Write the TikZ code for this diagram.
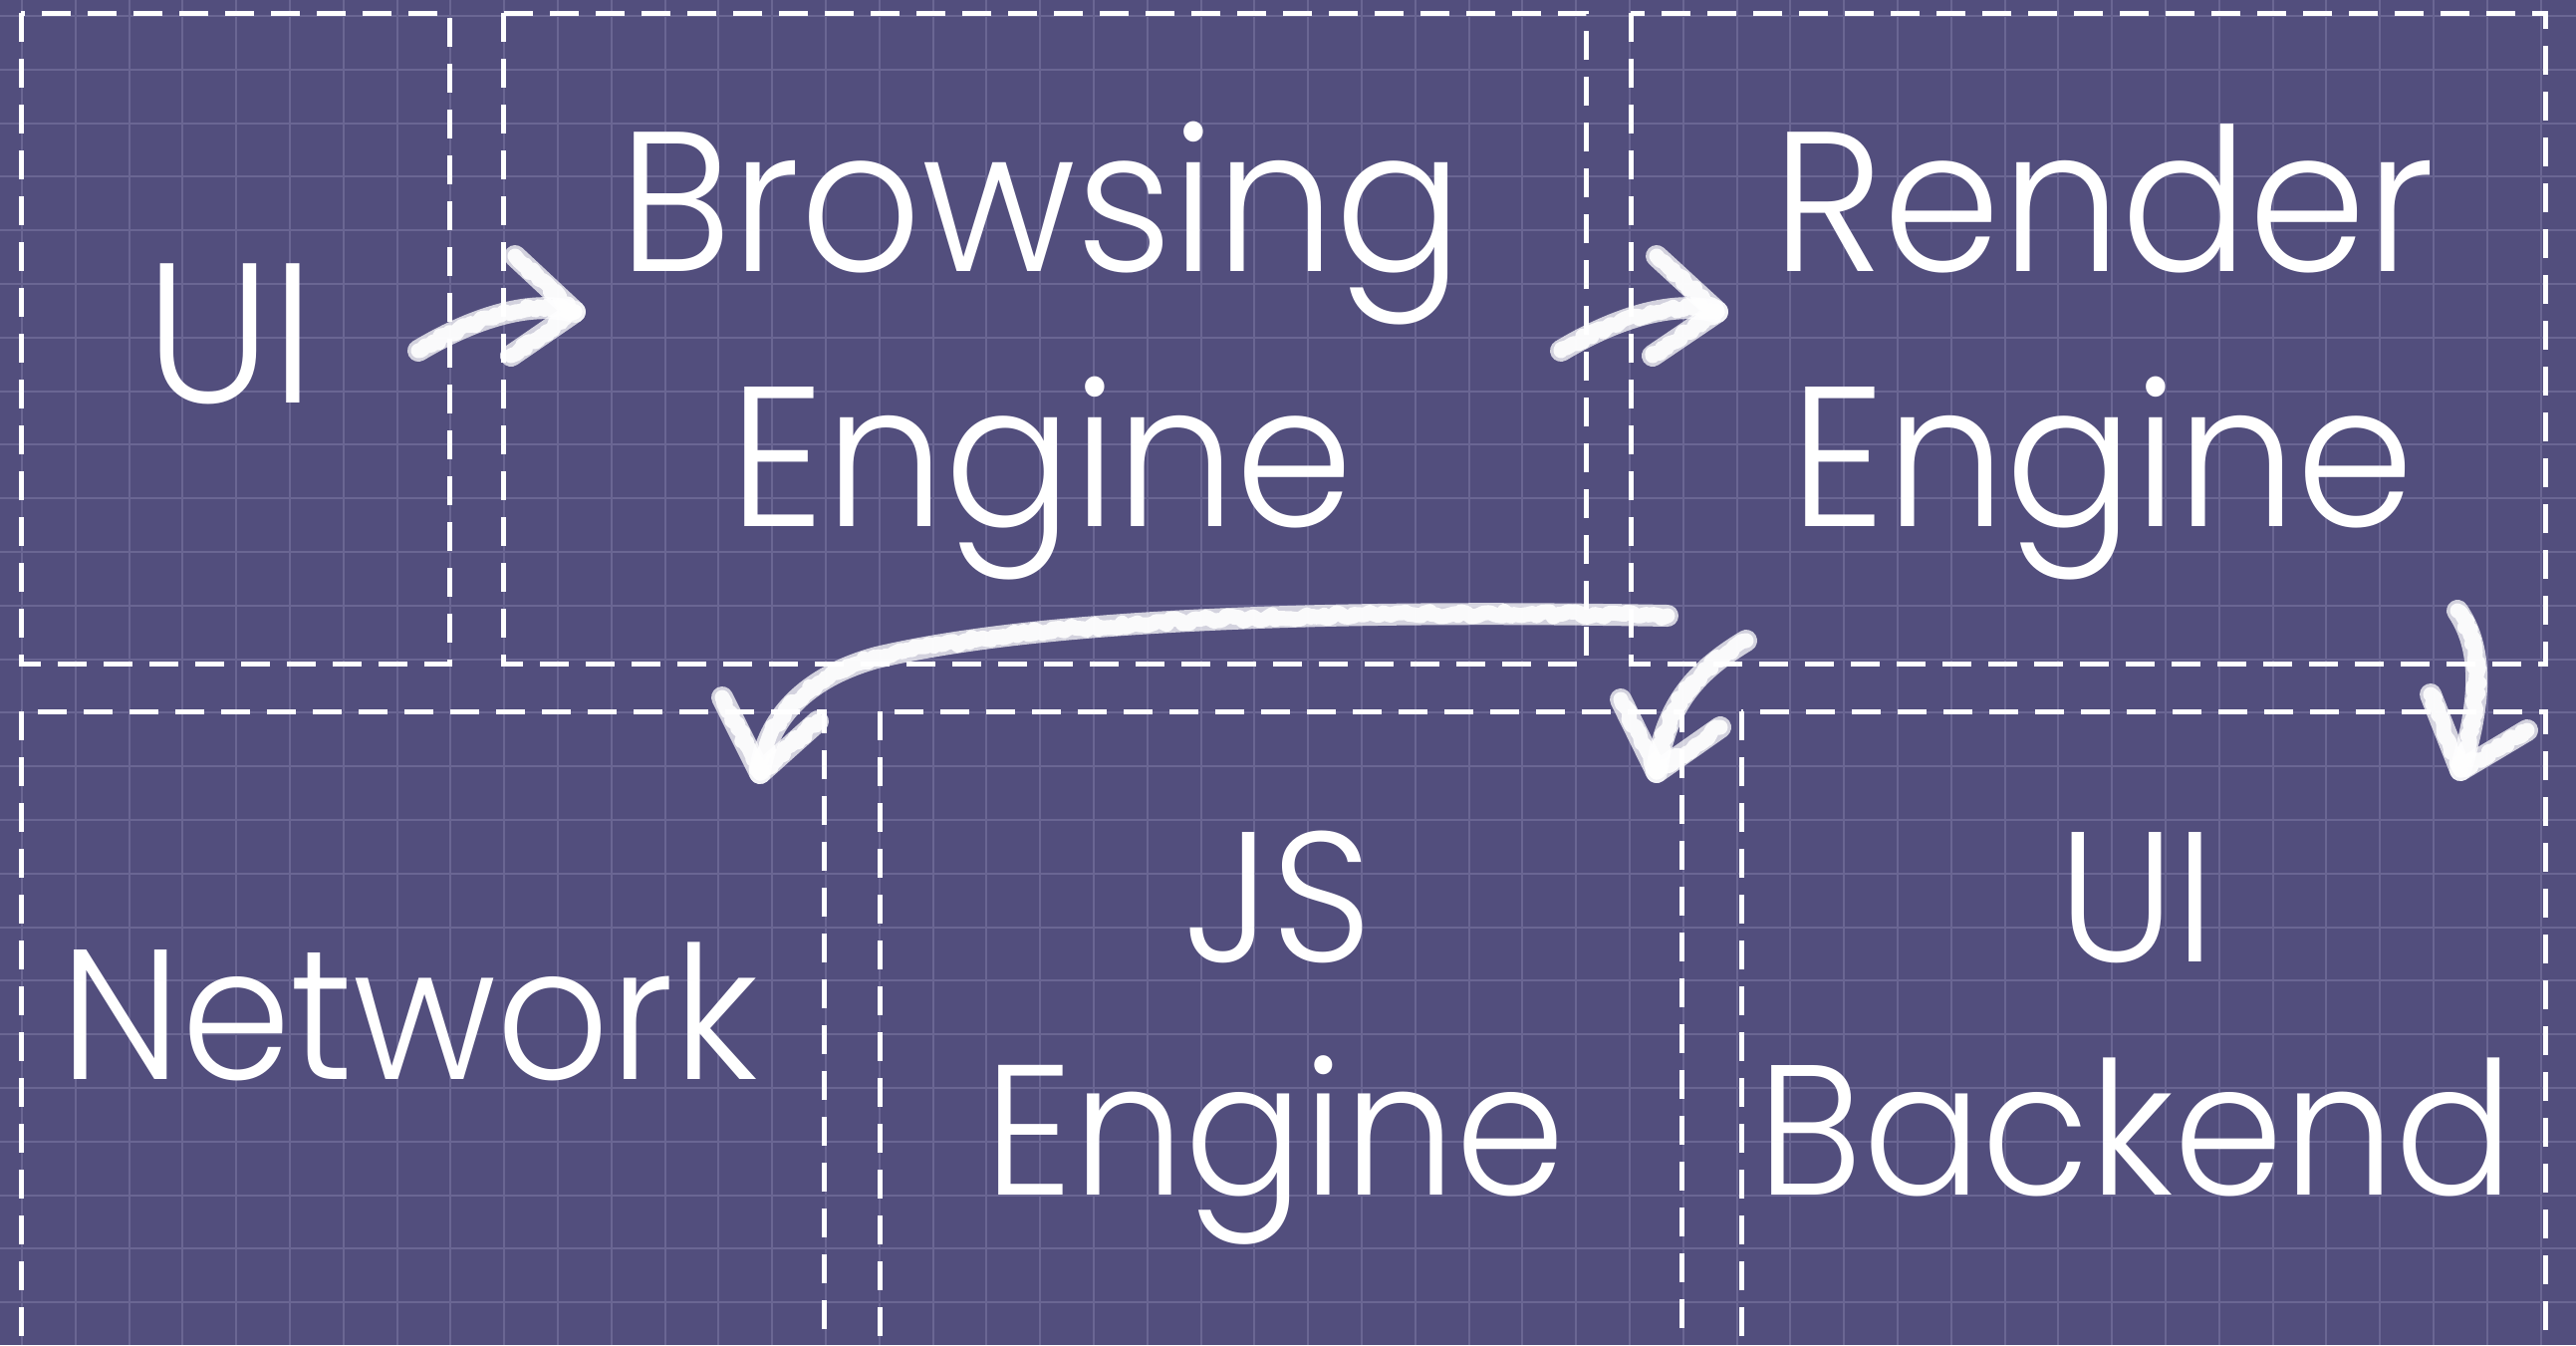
\documentclass[tikz,border=0pt]{standalone}
\usepackage{fontspec}
\setmainfont{Poppins Light}[FakeStretch=0.95]
\usetikzlibrary{decorations.pathmorphing}
\definecolor{board}{HTML}{524E7D}
\definecolor{gridline}{HTML}{6A6693}
\begin{document}
\begin{tikzpicture}[x=1pt,y=-1pt,
  box/.style={draw=white, line width=5pt, dash pattern=on 29pt off 17pt},
  biglabel/.style={text=white, anchor=base, inner sep=0pt, font=\fontsize{200}{200}\selectfont},
  smalllabel/.style={text=white, anchor=base, inner sep=0pt, font=\fontsize{186}{186}\selectfont},
  chalkbase/.style={draw=white, line width=22pt, line cap=round, line join=round, opacity=0.75},
  chalkrough/.style={draw=white, line width=15pt, line cap=round, line join=round, opacity=0.9,
    decorate, decoration={random steps, segment length=4pt, amplitude=3pt}},
]
% board and grid
\fill[board] (0,0) rectangle (2586,1350);
\useasboundingbox (0,0) rectangle (2586,1350);
\clip (0,0) rectangle (2586,1350);
\foreach \i in {0,...,47} \draw[gridline, line width=2pt] (22+53.8*\i,0) -- (22+53.8*\i,1350);
\foreach \j in {0,...,24} \draw[gridline, line width=2pt] (0,16+53.8*\j) -- (2586,16+53.8*\j);

% component boxes
\draw[box] (21,13) rectangle (451,666);
\draw[box] (505,13) rectangle (1592,666);
\draw[box] (1637,13) rectangle (2555,666);
\draw[box] (21,714) rectangle (827,1380);
\draw[box] (883,714) rectangle (1688,1380);
\draw[box] (1748,714) rectangle (2555,1380);

% labels
\node[biglabel] (ui) at (231,404) {UI};
\node[biglabel] (browsing) at (1045,272) {Browsing};
\node[biglabel] (browsingengine) at (1046,528) {Engine};
\node[biglabel] (render) at (2112,272) {Render};
\node[biglabel] (renderengine) at (2111,528) {Engine};
\node[smalllabel] (network) at (411,1083) {Network};
\node[smalllabel] (js) at (1283,965) {JS};
\node[smalllabel] (jsengine) at (1280,1199) {Engine};
\node[smalllabel] (uib) at (2145,965) {UI};
\node[smalllabel] (backend) at (2144,1199) {Backend};

% arrow end points
\coordinate (a1s) at (420,352);
\coordinate (a1t) at (577,313);
\coordinate (a1u) at (517,257);
\coordinate (a1l) at (513,357);
\coordinate (a2s) at (1567,352);
\coordinate (a2t) at (1724,313);
\coordinate (a2u) at (1663,257);
\coordinate (a2l) at (1659,357);
\coordinate (a3s) at (1674,618);
\coordinate (a3m) at (880,660);
\coordinate (a3t) at (763,776);
\coordinate (a3u) at (725,700);
\coordinate (a3l) at (821,724);
\coordinate (a4s) at (1753,643);
\coordinate (a4t) at (1663,775);
\coordinate (a4u) at (1627,702);
\coordinate (a4l) at (1727,730);
\coordinate (a5s) at (2467,613);
\coordinate (a5t) at (2470,773);
\coordinate (a5u) at (2440,697);
\coordinate (a5l) at (2537,733);

% chalk arrows
\foreach \st in {chalkbase,chalkrough}{
  \draw[\st] (a1s) .. controls (470,322) and (530,300) .. (a1t);
  \draw[\st] (a1u) -- (a1t) -- (a1l);
  \draw[\st] (a2s) .. controls (1617,322) and (1677,300) .. (a2t);
  \draw[\st] (a2u) -- (a2t) -- (a2l);
  \draw[\st] (a3s) .. controls (1350,612) and (1050,620) .. (a3m)
                   .. controls (800,682) and (768,730) .. (a3t);
  \draw[\st] (a3u) -- (a3t) -- (a3l);
  \draw[\st] (a4s) .. controls (1705,672) and (1672,705) .. (a4t);
  \draw[\st] (a4u) -- (a4t) -- (a4l);
  \draw[\st] (a5s) .. controls (2492,650) and (2492,700) .. (a5t);
  \draw[\st] (a5u) -- (a5t) -- (a5l);
}
\end{tikzpicture}
\end{document}
